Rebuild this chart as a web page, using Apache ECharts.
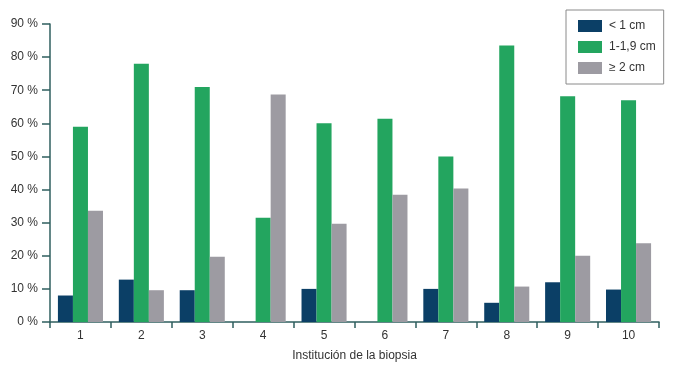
<!DOCTYPE html>
<html>
<head>
<meta charset="utf-8">
<script src="https://cdn.jsdelivr.net/npm/echarts@6/dist/echarts.min.js"></script>
<style>
  html, body { margin: 0; padding: 0; background: #fff; }
  #chart { width: 673px; height: 370px; }
</style>
</head>
<body>
<div id="chart"></div>
<script>
// categories: institution where the biopsy was done
var categories = ['1', '2', '3', '4', '5', '6', '7', '8', '9', '10'];
var seriesNames = ['< 1 cm', '1-1,9 cm', '≥ 2 cm'];
// percentages
var lessThan1 = [8, 12.8, 9.6, 0, 10, 0, 10, 5.8, 12, 9.8];
var from1to19 = [59, 78, 71, 31.5, 60, 61.4, 50, 83.5, 68.2, 67];
var twoOrMore = [33.6, 9.6, 19.7, 68.7, 29.7, 38.4, 40.3, 10.7, 20, 23.8];

var colors = ['#0b3f66', '#23a55f', '#9d9ba2'];
var axisColor = '#2f5f5f';
var font = '"Liberation Sans", Arial, sans-serif';

var chart = echarts.init(document.getElementById('chart'));
var option = {
  animation: false,
  color: colors,
  textStyle: {fontFamily: font},
  grid: {left: 50, right: 14, top: 24, bottom: 48, containLabel: false},
  legend: {
    orient: 'vertical',
    left: 566, top: 10,
    padding: [10, 8, 10, 12],
    icon: 'rect',
    itemWidth: 24, itemHeight: 12, itemGap: 9,
    borderColor: '#8a8a8a', borderWidth: 1,
    textStyle: {fontSize: 12, color: '#333', fontFamily: font, padding: [0, 0, 0, 2]},
    data: seriesNames
  },
  xAxis: {
    type: 'category',
    data: categories,
    name: 'Institución de la biopsia',
    nameLocation: 'middle',
    nameGap: 28,
    nameTextStyle: {fontSize: 12, color: '#333'},
    axisLine: {lineStyle: {color: axisColor, width: 1.5}},
    axisTick: {show: true, length: 6, lineStyle: {color: axisColor, width: 1.5}},
    axisLabel: {fontSize: 12, color: '#333', margin: 8}
  },
  yAxis: {
    type: 'value',
    min: 0, max: 90, interval: 10,
    splitLine: {show: false},
    axisLine: {show: true, lineStyle: {color: axisColor, width: 1.5}},
    axisTick: {show: true, length: 8, lineStyle: {color: axisColor, width: 1.5}},
    axisLabel: {formatter: '{value} %', fontSize: 12, color: '#333', margin: 12}
  },
  series: [
    {name: seriesNames[0], type: 'bar', data: lessThan1, barGap: '0%', barCategoryGap: '26%'},
    {name: seriesNames[1], type: 'bar', data: from1to19},
    {name: seriesNames[2], type: 'bar', data: twoOrMore}
  ]
};
chart.setOption(option);
</script>
</body>
</html>
